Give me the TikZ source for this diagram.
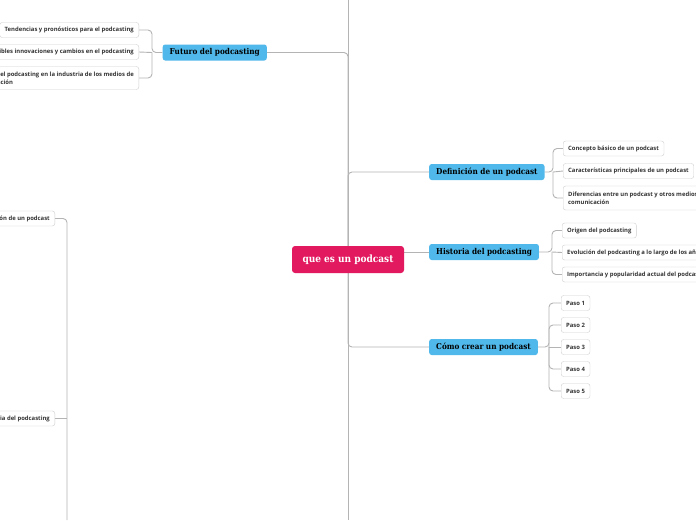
\documentclass[tikz,border=0pt]{standalone}
\usepackage{fontspec}
\usepackage{xcolor}
\usetikzlibrary{positioning,calc,backgrounds}
\newfontfamily\leaffont{Open Sans}
\newfontfamily\topicfont{DejaVu Serif Condensed}

\definecolor{rootpink}{HTML}{E2195F}
\definecolor{topicblue}{HTML}{50B8EA}
\definecolor{leafline}{HTML}{CFCFCF}
\definecolor{linkgray}{HTML}{B4B4B4}
\definecolor{leaftext}{HTML}{333333}

\begin{document}
\begin{tikzpicture}[
  x=1pt, y=-1pt,
  rootbox/.style={rectangle, rounded corners=3pt, fill=rootpink, text=white, font=\topicfont\bfseries\fontsize{10}{12}\selectfont, minimum height=27pt, minimum width=112pt, align=center},
  topic/.style={rectangle, rounded corners=2.5pt, fill=topicblue, text=black, font=\topicfont\bfseries\fontsize{8.1}{10}\selectfont, minimum height=16pt, inner xsep=7pt, align=center},
  leaf/.style={rectangle, rounded corners=2.5pt, draw=leafline, fill=white, text=leaftext, font=\leaffont\bfseries\fontsize{5.9}{8}\selectfont, minimum height=15pt, inner xsep=5pt, align=left},
  link/.style={draw=linkgray, line width=0.9pt, rounded corners=4pt}
]
\useasboundingbox (0,0) rectangle (696,520);

% Nodes
\node[rootbox]                        (root)  at (348,259.5) {que es un podcast};
\node[topic, anchor=east]             (fut)   at (267,52.5)  {Futuro del podcasting};
\node[topic, anchor=west]             (def)   at (429,172)   {Definición de un podcast};
\node[topic, anchor=west]             (hist)  at (429,252)   {Historia del podcasting};
\node[topic, anchor=west]             (como)  at (429,347)   {Cómo crear un podcast};

\node[leaf, anchor=east]              (fut1)  at (139,30)    {Tendencias y pronósticos para el podcasting};
\node[leaf, anchor=east]              (fut2)  at (139,52)    {Posibles innovaciones y cambios en el podcasting};
\node[leaf, anchor=east, minimum height=23pt] (fut3) at (139,78) {El papel del podcasting en la industria de los medios de\\comunicación};

\node[leaf, anchor=west]              (def1)  at (563,148.5) {Concepto básico de un podcast};
\node[leaf, anchor=west]              (def2)  at (563,171)   {Características principales de un podcast};
\node[leaf, anchor=west, minimum height=24pt] (def3) at (563,198) {Diferencias entre un podcast y otros medios de\\comunicación};

\node[leaf, anchor=west]              (hist1) at (562,230.5) {Origen del podcasting};
\node[leaf, anchor=west]              (hist2) at (562,252.5) {Evolución del podcasting a lo largo de los años};
\node[leaf, anchor=west]              (hist3) at (562,274.5) {Importancia y popularidad actual del podcasting};

\node[leaf, anchor=west]              (paso1) at (561,303)   {Paso 1};
\node[leaf, anchor=west]              (paso2) at (561,325)   {Paso 2};
\node[leaf, anchor=west]              (paso3) at (561,347)   {Paso 3};
\node[leaf, anchor=west]              (paso4) at (561,369)   {Paso 4};
\node[leaf, anchor=west]              (paso5) at (561,391)   {Paso 5};

\node[leaf, anchor=east]              (low1)  at (55,218.5)  {Definición de un podcast};
\node[leaf, anchor=east]              (low2)  at (55,418.5)  {Historia del podcasting};

% Joints
\coordinate (ttop) at (348,0);
\coordinate (tbot) at (348,520);
\coordinate (lbot) at (67,520);
\coordinate (futj) at (152,52.5);
\coordinate (defj) at (553,172);
\coordinate (histj) at (552,252);
\coordinate (comoj) at (549,347);

% Edges
\begin{scope}[on background layer]
\fill[white] (0,0) rectangle (696,520);
\draw[link] (ttop) -- (tbot);
\draw[link] (fut.east) -| (root.north);
\draw[link] (root.north) |- (def.west);
\draw[link] (root.east |- hist.west) -- (hist.west);
\draw[link] (root.south) |- (como.west);

\draw[link] (fut.west) -- (futj) |- (fut1.east);
\draw[link] (futj) -- (fut2.east);
\draw[link] (futj) |- (fut3.east);

\draw[link] (def.east) -- (defj) |- (def1.west);
\draw[link] (defj) -- (def2.west);
\draw[link] (defj) |- (def3.west);

\draw[link] (hist.east) -- (histj) |- (hist1.west);
\draw[link] (histj) -- (hist2.west);
\draw[link] (histj) |- (hist3.west);

\draw[link] (como.east) -- (comoj) |- (paso1.west);
\draw[link] (comoj) |- (paso2.west);
\draw[link] (comoj) -- (paso3.west);
\draw[link] (comoj) |- (paso4.west);
\draw[link] (comoj) |- (paso5.west);

\draw[link] (low1.east) -| (lbot);
\draw[link] (low2.east) -- (low2.east -| lbot);
\end{scope}
\end{tikzpicture}
\end{document}
